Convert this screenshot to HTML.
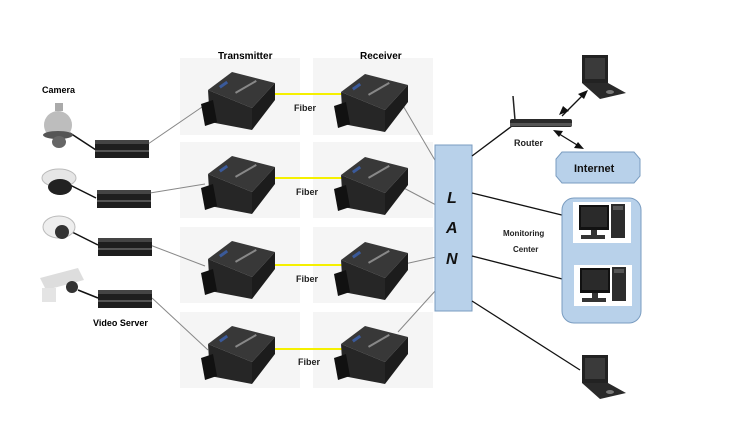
<!DOCTYPE html>
<html><head><style>
body{margin:0;background:#fff;}
svg{display:block;font-family:"Liberation Sans",Arial,sans-serif;}
</style></head><body>
<svg width="748" height="428" viewBox="0 0 748 428">
<defs>
<g id="mod">
<polygon points="3,22 27,4 70,15 47,40" fill="#383838"/>
<polygon points="3,22 47,40 47,62 5,54" fill="#262626"/>
<polygon points="47,40 70,15 70,32 47,62" fill="#1c1c1c"/>
<polygon points="-4,36 8,32 12,54 0,58" fill="#111"/>
<rect x="14" y="18" width="9" height="3" fill="#3a5a9a" transform="rotate(-35 14 18)"/>
<rect x="30" y="24" width="24" height="2" fill="#888" transform="rotate(-30 30 24)"/>
</g>
<g id="dvr">
<rect x="0" y="0" width="54" height="4" fill="#444"/>
<rect x="0" y="4" width="54" height="14" fill="#1e1e1e"/>
<rect x="0" y="10" width="54" height="2" fill="#555"/>
</g>
<g id="lap">
<polygon points="4,0 30,0 30,28 4,28" fill="#222"/>
<polygon points="7,3 27,3 27,24 7,24" fill="#3a3a3a"/>
<polygon points="4,28 30,28 48,38 22,44" fill="#2a2a2a"/>
<ellipse cx="32" cy="37" rx="4" ry="2" fill="#777"/>
</g>
<g id="pc">
<rect x="0" y="0" width="58" height="41" fill="#fff"/>
<rect x="6" y="3" width="30" height="25" fill="#111"/>
<rect x="8" y="5" width="26" height="20" fill="#2a2a2a"/>
<rect x="18" y="28" width="6" height="5" fill="#333"/>
<rect x="8" y="33" width="24" height="4" fill="#333"/>
<rect x="38" y="2" width="14" height="34" fill="#2c2c2c"/>
<rect x="40" y="4" width="10" height="4" fill="#555"/>
</g>
</defs>

<g fill="#f5f5f5">
<rect x="180" y="58" width="120" height="77"/><rect x="313" y="58" width="120" height="77"/>
<rect x="180" y="142" width="120" height="76"/><rect x="313" y="142" width="120" height="76"/>
<rect x="180" y="227" width="120" height="76"/><rect x="313" y="227" width="120" height="76"/>
<rect x="180" y="312" width="120" height="76"/><rect x="313" y="312" width="120" height="76"/>
</g>

<text x="218" y="59" font-size="10" font-weight="bold">Transmitter</text>
<text x="360" y="59" font-size="10" font-weight="bold">Receiver</text>
<text x="42" y="93" font-size="9" font-weight="bold">Camera</text>
<text x="93" y="326" font-size="9" font-weight="bold">Video Server</text>

<g stroke="#f5f000" stroke-width="2">
<line x1="274" y1="94" x2="342" y2="94"/><line x1="272" y1="178" x2="342" y2="178"/>
<line x1="272" y1="265" x2="342" y2="265"/><line x1="272" y1="349" x2="342" y2="349"/>
</g>
<g font-size="9" font-weight="bold" fill="#222">
<text x="294" y="111">Fiber</text><text x="296" y="195">Fiber</text>
<text x="296" y="282">Fiber</text><text x="298" y="365">Fiber</text>
</g>

<g stroke="#888" stroke-width="1">
<line x1="148" y1="144" x2="205" y2="105"/><line x1="150" y1="193" x2="205" y2="184"/>
<line x1="150" y1="245" x2="205" y2="266"/><line x1="152" y1="298" x2="208" y2="350"/>
<line x1="402" y1="104" x2="436" y2="162"/><line x1="400" y1="186" x2="436" y2="205"/>
<line x1="400" y1="265" x2="436" y2="257"/><line x1="398" y1="332" x2="436" y2="290"/>
</g>

<use href="#mod" x="205" y="68"/><use href="#mod" x="338" y="70"/>
<use href="#mod" x="205" y="152"/><use href="#mod" x="338" y="153"/>
<use href="#mod" x="205" y="237"/><use href="#mod" x="338" y="238"/>
<use href="#mod" x="205" y="322"/><use href="#mod" x="338" y="322"/>

<g stroke="#111" stroke-width="1.5">
<line x1="70" y1="133" x2="96" y2="150"/><line x1="70" y1="185" x2="96" y2="198"/>
<line x1="72" y1="232" x2="98" y2="245"/><line x1="78" y1="290" x2="98" y2="298"/>
</g>
<use href="#dvr" x="95" y="140"/><use href="#dvr" x="97" y="190"/>
<use href="#dvr" x="98" y="238"/><use href="#dvr" x="98" y="290"/>
<rect x="55" y="103" width="8" height="8" fill="#aaa"/>
<ellipse cx="58" cy="125" rx="14" ry="14" fill="#bdbdbd"/>
<ellipse cx="58" cy="135" rx="15" ry="4" fill="#555"/>
<ellipse cx="59" cy="142" rx="7" ry="6" fill="#666"/>
<ellipse cx="59" cy="178" rx="17" ry="9" fill="#e6e6e6" stroke="#bbb"/>
<ellipse cx="60" cy="187" rx="12" ry="8" fill="#222"/>
<ellipse cx="59" cy="227" rx="16" ry="11" fill="#eee" stroke="#bbb"/>
<circle cx="62" cy="232" r="7" fill="#333"/>
<polygon points="40,278 78,268 84,280 46,290" fill="#ddd"/>
<rect x="42" y="288" width="14" height="14" fill="#e4e4e4"/>
<circle cx="72" cy="287" r="6" fill="#333"/>

<rect x="435" y="145" width="37" height="166" fill="#b8d1ea" stroke="#7a9cc0"/>
<g font-size="16" font-weight="bold" font-style="italic" fill="#111">
<text x="447" y="203">L</text><text x="446" y="233">A</text><text x="446" y="264">N</text>
</g>

<g stroke="#111" stroke-width="1.3">
<line x1="472" y1="156" x2="512" y2="126"/>
<line x1="472" y1="193" x2="578" y2="219"/>
<line x1="472" y1="256" x2="578" y2="283"/>
<line x1="472" y1="301" x2="580" y2="370"/>
<line x1="562" y1="116" x2="585" y2="93"/>
<line x1="556" y1="132" x2="582" y2="148"/>
</g>
<g fill="#111">
<polygon points="588,90 578,94 584,99"/><polygon points="559,115 569,111 563,106"/>
<polygon points="553,130 563,131 559,137"/><polygon points="584,149 574,148 578,142"/>
</g>

<line x1="513" y1="96" x2="515" y2="120" stroke="#222" stroke-width="1.5"/>
<rect x="510" y="119" width="62" height="8" rx="2" fill="#2a2a2a"/>
<rect x="510" y="123" width="62" height="3" fill="#555"/>
<text x="514" y="146" font-size="9" font-weight="bold" fill="#222">Router</text>

<use href="#lap" x="578" y="55"/>
<use href="#lap" x="578" y="355"/>

<polygon points="562,152 634,152 640,159 640,176 634,183 562,183 556,176 556,159" fill="#b8d1ea" stroke="#7a9cc0"/>
<text x="574" y="172" font-size="11" font-weight="bold" fill="#111">Internet</text>

<rect x="562" y="198" width="79" height="125" rx="12" fill="#b8d1ea" stroke="#7a9cc0"/>
<use href="#pc" x="573" y="202"/><use href="#pc" x="574" y="265"/>
<text x="503" y="236" font-size="8" font-weight="bold" fill="#222">Monitoring</text>
<text x="513" y="252" font-size="8" font-weight="bold" fill="#222">Center</text>
</svg>
</body></html>
